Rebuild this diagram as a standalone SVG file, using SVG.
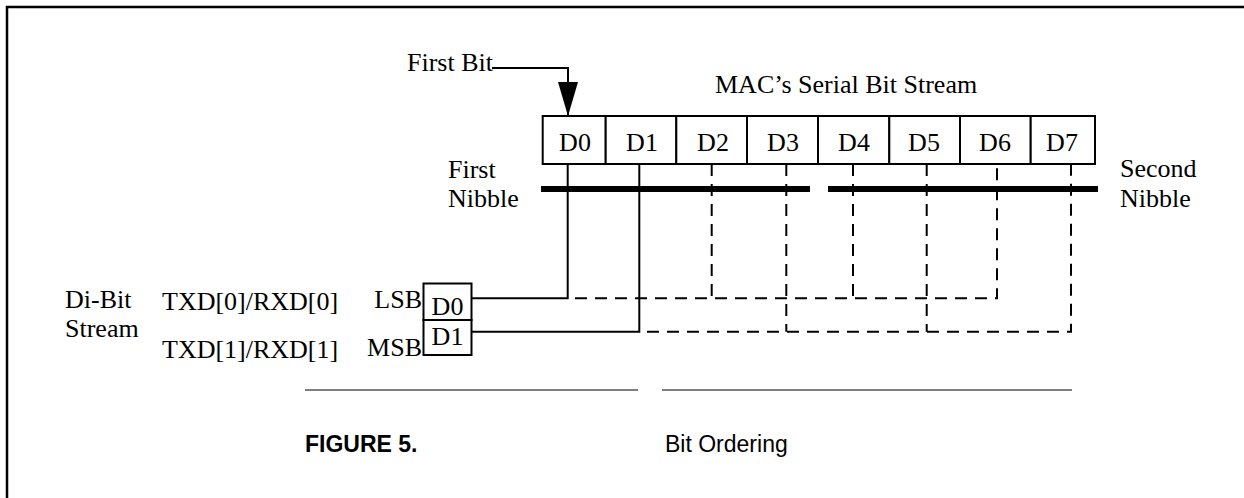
<svg xmlns="http://www.w3.org/2000/svg" width="1244" height="498" viewBox="0 0 1244 498">
  <style>
    .t { font-family: "Liberation Serif", "Times New Roman", serif; font-size: 26px; fill: #000; }
    .mid { text-anchor: middle; }
    .end { text-anchor: end; }
    .cap { font-family: "Liberation Sans", Arial, sans-serif; font-size: 23px; fill: #000; }
    .box { fill: #fff; stroke: #000; stroke-width: 2; }
    .solid { fill: none; stroke: #000; stroke-width: 2; }
    .dash { fill: none; stroke: #000; stroke-width: 2; stroke-dasharray: 12 8; }
    .bar { fill: none; stroke: #000; stroke-width: 6; }
    .rule { fill: none; stroke: #555; stroke-width: 1.5; }
  </style>
  <defs>
    <!-- filled triangular head, drawn along +x so orient="auto" turns it with the line -->
    <marker id="arrow" viewBox="0 0 34 20" refX="34" refY="10" markerWidth="34" markerHeight="20" markerUnits="userSpaceOnUse" orient="auto">
      <path d="M0 0 L34 10 L0 20 Z" fill="#000"/>
    </marker>
  </defs>

  <!-- page frame (top and left edges) -->
  <path d="M7 498 V7 H1244" fill="none" stroke="#000" stroke-width="2.5"/>

  <!-- titles -->
  <text id="first-bit" class="t" x="407" y="71">First Bit</text>
  <text id="serial-title" class="t" x="715" y="93">MAC’s Serial Bit Stream</text>

  <!-- nibble labels -->
  <g id="first-nibble">
    <text class="t" x="448" y="178">First</text>
    <text class="t" x="448" y="207">Nibble</text>
  </g>
  <g id="second-nibble">
    <text class="t" x="1120" y="177">Second</text>
    <text class="t" x="1120" y="207">Nibble</text>
  </g>

  <!-- serial bit cells -->
  <g id="serial-d0"><rect class="box" x="542.7" y="116" width="63" height="48"/><text class="t mid" x="575" y="151">D0</text></g>
  <g id="serial-d1"><rect class="box" x="605.7" y="116" width="70.6" height="48"/><text class="t mid" x="642" y="151">D1</text></g>
  <g id="serial-d2"><rect class="box" x="676.3" y="116" width="70.7" height="48"/><text class="t mid" x="713" y="151">D2</text></g>
  <g id="serial-d3"><rect class="box" x="747" y="116" width="71" height="48"/><text class="t mid" x="783" y="151">D3</text></g>
  <g id="serial-d4"><rect class="box" x="818" y="116" width="71.3" height="48"/><text class="t mid" x="854" y="151">D4</text></g>
  <g id="serial-d5"><rect class="box" x="889.3" y="116" width="70.7" height="48"/><text class="t mid" x="924" y="151">D5</text></g>
  <g id="serial-d6"><rect class="box" x="960" y="116" width="70.7" height="48"/><text class="t mid" x="995" y="151">D6</text></g>
  <g id="serial-d7"><rect class="box" x="1030.7" y="116" width="64.3" height="48"/><text class="t mid" x="1062" y="151">D7</text></g>

  <!-- di-bit register -->
  <g id="dibit-box">
    <rect class="box" x="423.5" y="283.5" width="48" height="36.5"/>
    <rect class="box" x="423.5" y="320" width="48" height="35"/>
    <text class="t mid" x="447.5" y="315">D0</text>
    <text class="t mid" x="447.5" y="345">D1</text>
  </g>

  <!-- di-bit labels -->
  <g id="dibit-label">
    <text class="t" x="65" y="308">Di-Bit</text>
    <text class="t" x="65" y="337">Stream</text>
  </g>
  <g id="lsb-label">
    <text class="t" x="162" y="310">TXD[0]/RXD[0]</text>
    <text class="t end" x="422" y="308">LSB</text>
  </g>
  <g id="msb-label">
    <text class="t" x="162" y="358">TXD[1]/RXD[1]</text>
    <text class="t end" x="422" y="356">MSB</text>
  </g>

  <!-- connectors -->
  <g id="connectors">
    <!-- first-bit pointer -->
    <path class="solid" d="M492 68 H568 V116" marker-end="url(#arrow)"/>
    <!-- nibble bars -->
    <line class="bar" x1="541" y1="189" x2="810" y2="189"/>
    <line class="bar" x1="828" y1="189" x2="1098" y2="189"/>
    <!-- LSB line: solid to D0, dashed through D2, D4, D6 -->
    <path class="solid" d="M471.5 298.3 H567.7 V164"/>
    <path class="dash" d="M575 298.3 H997 V164"/>
    <line class="dash" x1="711.7" y1="164" x2="711.7" y2="298.3"/>
    <line class="dash" x1="853" y1="164" x2="853" y2="298.3"/>
    <!-- MSB line: solid to D1, dashed through D3, D5, D7 -->
    <path class="solid" d="M471.5 331.7 H639.3 V164"/>
    <path class="dash" d="M647 331.7 H1071 V164"/>
    <line class="dash" x1="786.3" y1="164" x2="786.3" y2="331.7"/>
    <line class="dash" x1="926.7" y1="164" x2="926.7" y2="331.7"/>
  </g>

  <!-- caption -->
  <g id="caption">
    <line class="rule" x1="305" y1="390" x2="638" y2="390"/>
    <line class="rule" x1="662" y1="390" x2="1072" y2="390"/>
    <text class="cap" x="305" y="452" font-weight="bold">FIGURE 5.</text>
    <text class="cap" x="665" y="452">Bit Ordering</text>
  </g>
</svg>
